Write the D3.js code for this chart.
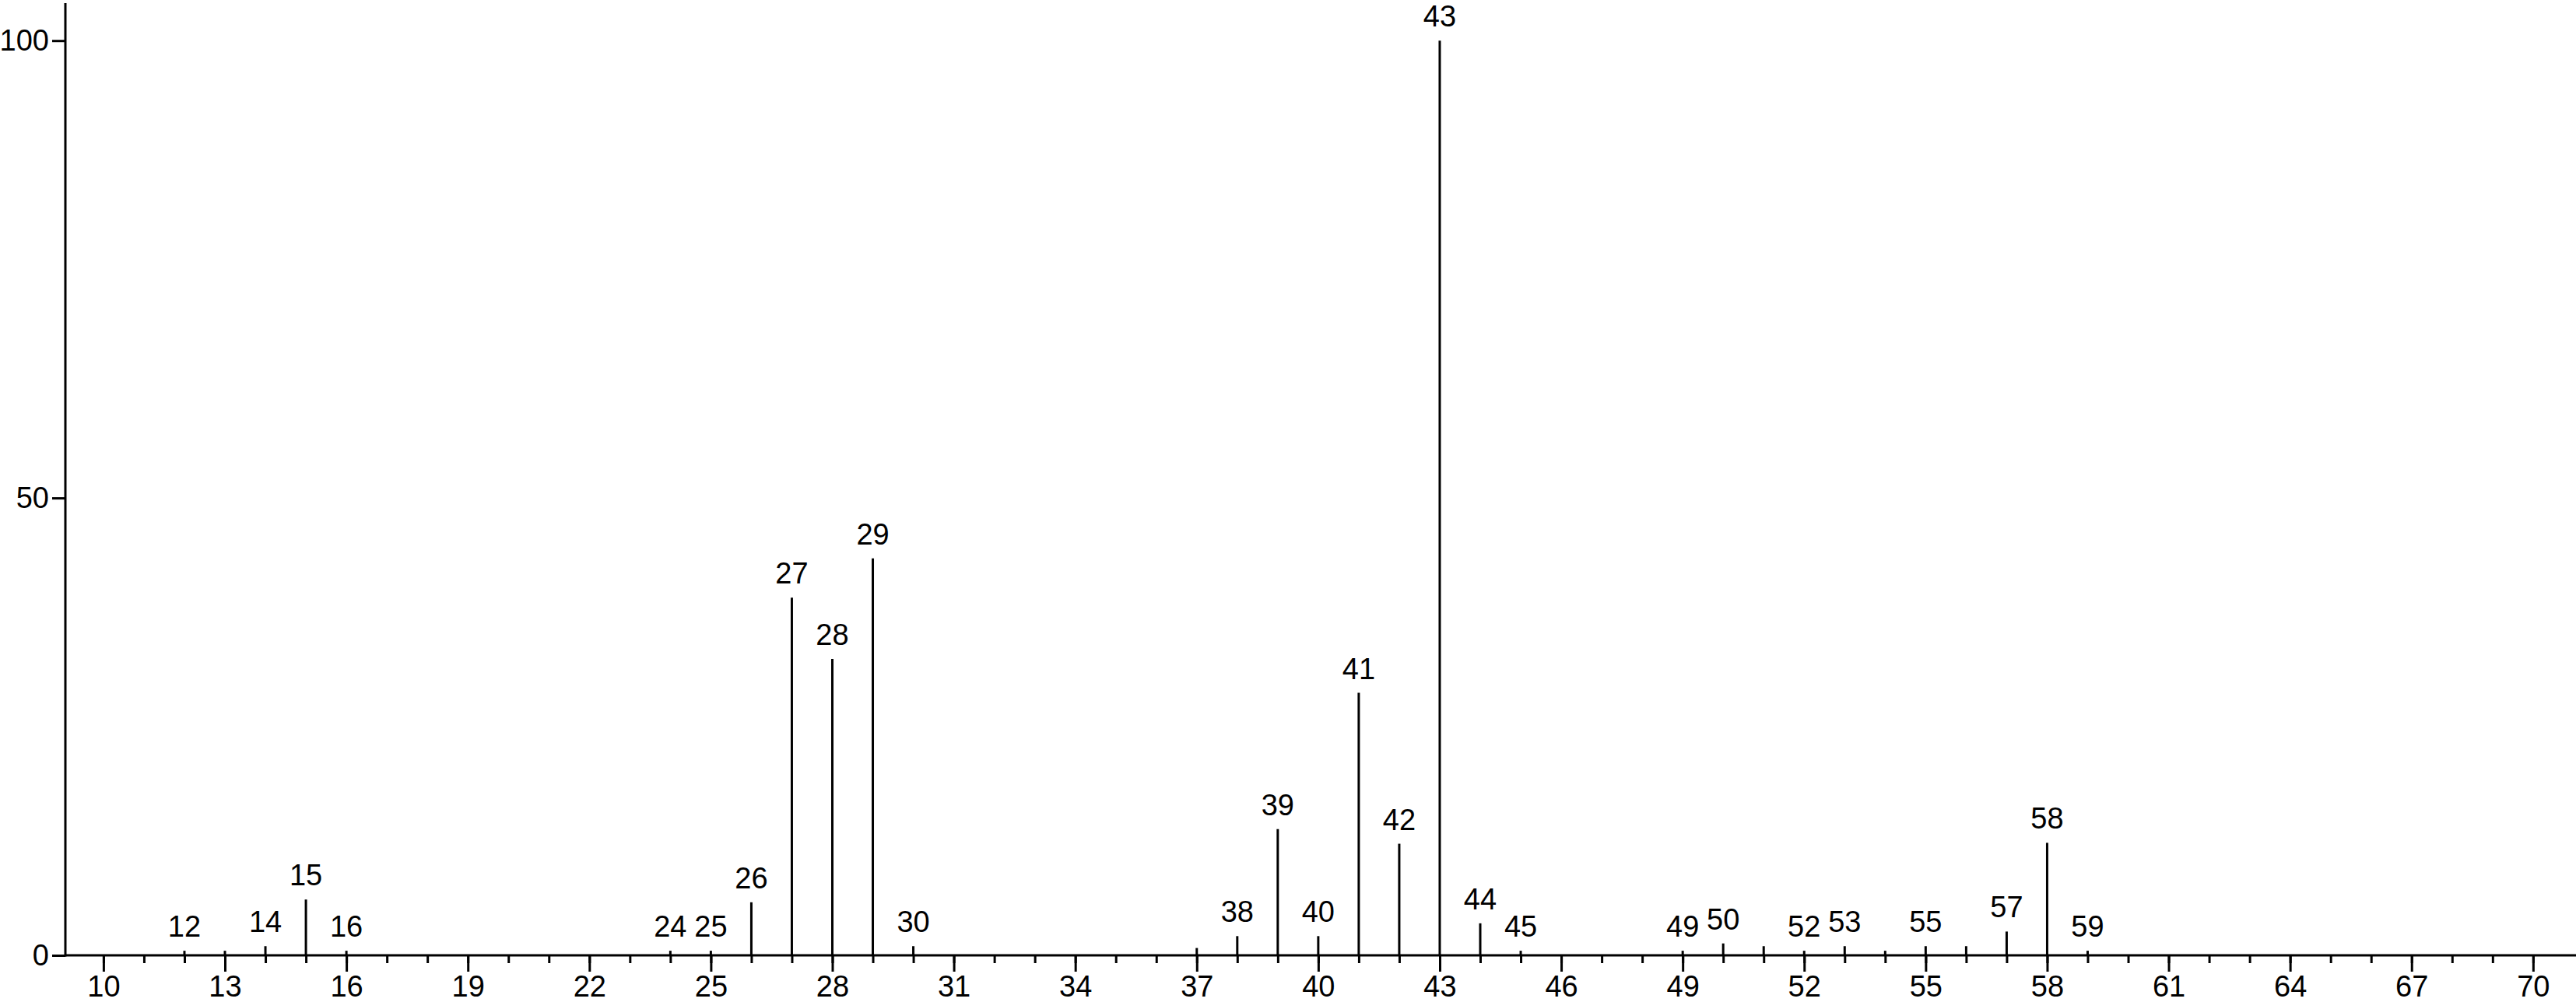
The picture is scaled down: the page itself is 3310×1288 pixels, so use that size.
<!DOCTYPE html>
<html>
<head>
<meta charset="utf-8">
<script src="https://cdn.jsdelivr.net/npm/d3@7"></script>
<style>
  html, body { margin: 0; padding: 0; background: #fff; }
  svg { display: block; }
  text { font-family: "Liberation Sans", "DejaVu Sans", sans-serif; fill: #000; }
</style>
</head>
<body>
<svg id="chart" width="3310" height="1288"></svg>
<script>
// m/z values of the peaks
const masses = [12, 13, 14, 15, 16, 24, 25, 26, 27, 28, 29, 30, 37, 38, 39, 40, 41, 42, 43, 44, 45, 49, 50, 51, 52, 53, 54, 55, 56, 57, 58, 59];
// relative intensities (%)
const intensities = [0.5, 0.5, 1.0, 6.1, 0.5, 0.5, 0.5, 5.8, 39.1, 32.4, 43.4, 1.0, 0.8, 2.1, 13.8, 2.1, 28.7, 12.2, 100, 3.5, 0.5, 0.5, 1.3, 1.0, 0.5, 1.0, 0.5, 1.0, 1.0, 2.6, 12.3, 0.5];
// peaks that carry a label in the reference
const labeledMasses = [12, 14, 15, 16, 24, 25, 26, 27, 28, 29, 30, 38, 39, 40, 41, 42, 43, 44, 45, 49, 50, 52, 53, 55, 57, 58, 59];
// axis ticks
const xMajorTicks = [10, 13, 16, 19, 22, 25, 28, 31, 34, 37, 40, 43, 46, 49, 52, 55, 58, 61, 64, 67, 70];
const xMinorTicks = d3.range(10, 71);
const yTicks = [0, 50, 100];

const svg = d3.select("#chart");
const FONT = 38;

const x = d3.scaleLinear().domain([9.06, 71.06]).range([84, 3310]);
const y = d3.scaleLinear().domain([0, 104.1]).range([1228, 4]);

const peaks = masses.map((m, i) => ({ m, v: intensities[i] }));

// minor ticks
const minorAxis = d3.axisBottom(x).tickValues(xMinorTicks).tickSize(10).tickFormat("");
const gMinor = svg.append("g").attr("transform", `translate(0,${y(0)})`).call(minorAxis);
gMinor.select(".domain").remove();
gMinor.selectAll("line").attr("stroke", "#000").attr("stroke-width", 3);

// major ticks
const majorAxis = d3.axisBottom(x).tickValues(xMajorTicks).tickSize(21).tickPadding(5).tickFormat(d3.format("d"));
const gMajor = svg.append("g").attr("transform", `translate(0,${y(0)})`).call(majorAxis);
gMajor.select(".domain").remove();
gMajor.selectAll("line").attr("stroke", "#000").attr("stroke-width", 3);
gMajor.selectAll("text").attr("font-size", FONT).attr("font-family", "Liberation Sans, DejaVu Sans, sans-serif").attr("fill", "#000");

// x baseline
svg.append("line")
  .attr("x1", x.range()[0]).attr("x2", x.range()[1])
  .attr("y1", y(0)).attr("y2", y(0))
  .attr("stroke", "#000").attr("stroke-width", 3);

// y axis
const yAxis = d3.axisLeft(y).tickValues(yTicks).tickSize(17).tickPadding(4).tickFormat(d3.format("d"));
const gY = svg.append("g").attr("transform", `translate(${x.range()[0]},0)`).call(yAxis);
gY.select(".domain").remove();
gY.selectAll("line").attr("stroke", "#000").attr("stroke-width", 3);
gY.selectAll("text").attr("font-size", FONT).attr("font-family", "Liberation Sans, DejaVu Sans, sans-serif").attr("fill", "#000");

svg.append("line")
  .attr("x1", x.range()[0]).attr("x2", x.range()[0])
  .attr("y1", y.range()[1]).attr("y2", y(0) + 1.5)
  .attr("stroke", "#000").attr("stroke-width", 3);

// peaks
svg.append("g").selectAll("line")
  .data(peaks)
  .join("line")
  .attr("x1", d => x(d.m)).attr("x2", d => x(d.m))
  .attr("y1", y(0)).attr("y2", d => y(d.v))
  .attr("stroke", "#000").attr("stroke-width", 3);

// peak labels
svg.append("g").selectAll("text")
  .data(peaks.filter(d => labeledMasses.includes(d.m)))
  .join("text")
  .attr("x", d => x(d.m))
  .attr("y", d => y(d.v) - 18)
  .attr("text-anchor", "middle")
  .attr("font-size", FONT)
  .text(d => d.m);
</script>
</body>
</html>
